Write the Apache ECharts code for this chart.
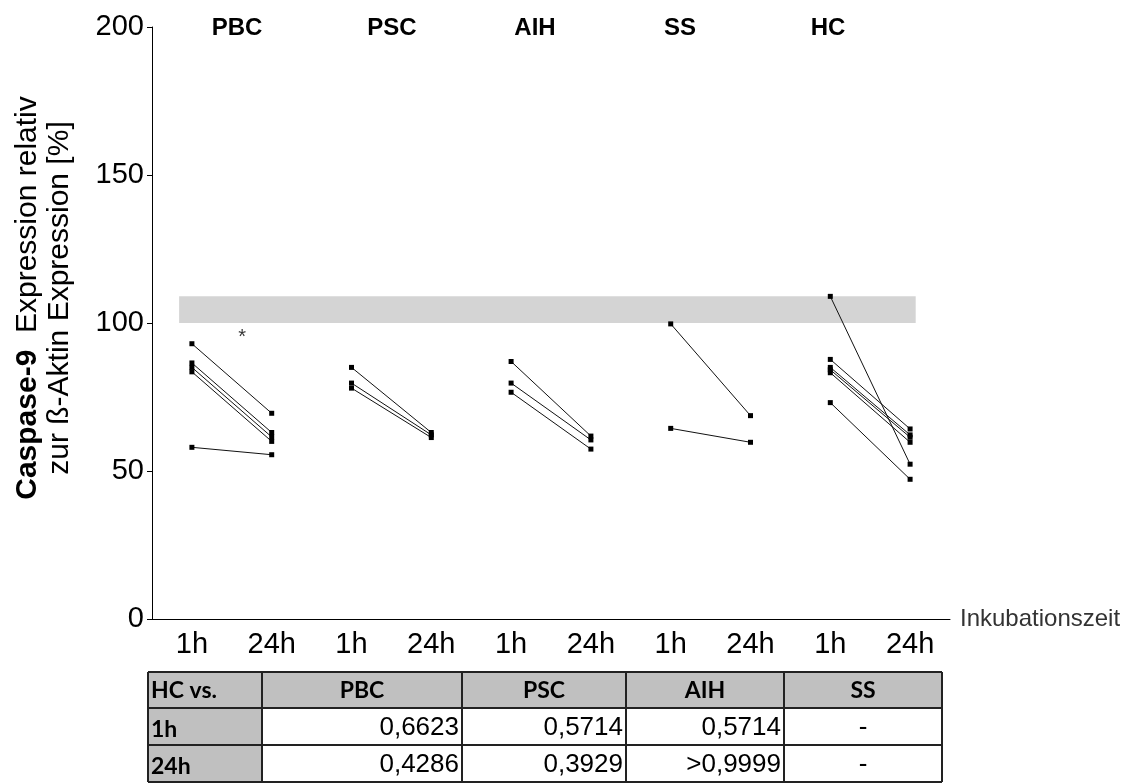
<!DOCTYPE html>
<html>
<head>
<meta charset="utf-8">
<script src="https://cdn.jsdelivr.net/npm/echarts@6/dist/echarts.min.js"></script>
<style>
  html, body { margin: 0; padding: 0; background: #fff; }
  #chart { width: 1136px; height: 783px; }
</style>
</head>
<body>
<div id="chart"></div>
<script>
// Time points on the x axis (two per patient group)
const timeLabels = ['1h', '24h', '1h', '24h', '1h', '24h', '1h', '24h', '1h', '24h'];
const groups = ['PBC', 'PSC', 'AIH', 'SS', 'HC'];
const yTicks = [0, 50, 100, 150, 200];

// Caspase-9 expression (% of ß-actin), paired per subject: 1h -> 24h
const pbc1h  = [93.0, 86.5, 85.0, 83.5, 58.0];
const pbc24h = [69.5, 63.0, 61.5, 60.0, 55.5];
const psc1h  = [85.0, 79.7, 78.0];
const psc24h = [63.0, 62.2, 61.3];
const aih1h  = [87.0, 79.7, 76.6];
const aih24h = [61.8, 60.5, 57.4];
const ss1h   = [99.7, 64.4];
const ss24h  = [68.7, 59.7];
const hc1h   = [109.0, 87.7, 85.0, 84.2, 83.2, 73.1];
const hc24h  = [52.3, 64.2, 62.2, 61.4, 59.7, 47.2];

// Reference band (healthy control range)
const bandLow = 100;
const bandHigh = 109;

// Significance marker
const starValue = 95;

// p-values table (HC vs. disease groups)
const tableHeader = ['HC vs.', 'PBC', 'PSC', 'AIH', 'SS'];
const tableRows = [
  ['1h',  '0,6623', '0,5714', '0,5714', '-'],
  ['24h', '0,4286', '0,3929', '>0,9999', '-']
];

const groupData = [
  [pbc1h, pbc24h], [psc1h, psc24h], [aih1h, aih24h], [ss1h, ss24h], [hc1h, hc24h]
];

const series = [];
groupData.forEach(([a, b], gi) => {
  a.forEach((v, i) => {
    series.push({
      type: 'line',
      xAxisIndex: 0,
      data: [[gi * 2, v], [gi * 2 + 1, b[i]]],
      symbol: 'rect',
      symbolSize: 5,
      itemStyle: { color: '#000' },
      lineStyle: { color: '#111', width: 1 },
      z: 5,
      silent: true,
      animation: false
    });
  });
});

// gray band drawn against a hidden continuous x axis
series.push({
  type: 'line',
  xAxisIndex: 1,
  data: [],
  markArea: {
    silent: true,
    itemStyle: { color: '#d4d4d4' },
    data: [[{ xAxis: 0.34, yAxis: bandLow }, { xAxis: 9.57, yAxis: bandHigh }]]
  },
  z: 1,
  animation: false
});

// asterisk between PBC 1h and 24h
series.push({
  type: 'scatter',
  xAxisIndex: 1,
  data: [[1.13, starValue]],
  symbolSize: 0,
  label: {
    show: true, position: 'inside', formatter: '*',
    fontSize: 20, color: '#000', fontFamily: 'Liberation Sans'
  },
  silent: true,
  animation: false
});

// ---- table below the axis ----
const colX = [148, 262, 462, 626, 784, 942];
const rowY = [672, 708, 745, 782];
const graphics = [];

graphics.push({ type: 'rect', shape: { x: colX[0], y: rowY[0], width: colX[5] - colX[0], height: rowY[1] - rowY[0] }, style: { fill: '#c0c0c0' } });
graphics.push({ type: 'rect', shape: { x: colX[0], y: rowY[1], width: colX[1] - colX[0], height: rowY[3] - rowY[1] }, style: { fill: '#c0c0c0' } });
colX.forEach(x => graphics.push({ type: 'line', shape: { x1: x, y1: rowY[0], x2: x, y2: rowY[3] }, style: { stroke: '#222', lineWidth: 2 } }));
rowY.forEach(y => graphics.push({ type: 'line', shape: { x1: colX[0], y1: y, x2: colX[5], y2: y }, style: { stroke: '#222', lineWidth: 2 } }));

const boldFont = 'bold 23px Lato, "Open Sans", sans-serif';
const valFont = '26px "Liberation Sans", Arial, sans-serif';
tableHeader.forEach((t, c) => {
  const cy = (rowY[0] + rowY[1]) / 2 + 1;
  graphics.push({
    type: 'text',
    style: c === 0
      ? { text: t, x: colX[0] + 3, y: cy, textAlign: 'left', textVerticalAlign: 'middle', font: boldFont, fill: '#000' }
      : { text: t, x: (colX[c] + colX[c + 1]) / 2, y: cy, textAlign: 'center', textVerticalAlign: 'middle', font: boldFont, fill: '#000' }
  });
});
tableRows.forEach((row, r) => {
  const cy = (rowY[r + 1] + rowY[r + 2]) / 2 + 1;
  row.forEach((t, c) => {
    let st;
    if (c === 0) st = { text: t, x: colX[0] + 3, y: cy + 2, textAlign: 'left', textVerticalAlign: 'middle', font: boldFont, fill: '#000' };
    else if (t === '-') st = { text: t, x: (colX[c] + colX[c + 1]) / 2, y: cy, textAlign: 'center', textVerticalAlign: 'middle', font: valFont, fill: '#000' };
    else st = { text: t, x: colX[c + 1] - 3, y: cy, textAlign: 'right', textVerticalAlign: 'middle', font: valFont, fill: '#000' };
    graphics.push({ type: 'text', style: st });
  });
});

// group titles across the top
const titleX = [237, 392, 535, 680, 828];
groups.forEach((g, i) => {
  graphics.push({
    type: 'text',
    style: { text: g, x: titleX[i], y: 28, textAlign: 'center', textVerticalAlign: 'middle',
      font: 'bold 24px "Liberation Sans", Arial, sans-serif', fill: '#000' }
  });
});

// rotated y-axis title (two lines)
graphics.push({
  type: 'text',
  x: 44, y: 298,
  rotation: Math.PI / 2,
  style: {
    text: '{b|Caspase-9}{n|  Expression relativ}\n{n|zur ß-Aktin Expression [%]}',
    textAlign: 'center', textVerticalAlign: 'middle',
    rich: {
      b: { fontWeight: 'bold', fontSize: 30, fontFamily: 'Liberation Sans', fill: '#000', lineHeight: 32 },
      n: { fontSize: 30, fontFamily: 'Liberation Sans', fill: '#000', lineHeight: 32 }
    }
  }
});

const chart = echarts.init(document.getElementById('chart'), null, { renderer: 'canvas' });
chart.setOption({
  backgroundColor: '#fff',
  animation: false,
  grid: { left: 152, right: 186, top: 27, height: 592, containLabel: false },
  xAxis: [{
    type: 'category',
    data: timeLabels,
    boundaryGap: true,
    name: 'Inkubationszeit',
    nameLocation: 'end',
    nameGap: 10,
    nameTextStyle: { fontSize: 24, color: '#333', fontFamily: 'Liberation Sans', padding: [0, 0, 12, 0] },
    axisLine: { lineStyle: { color: '#000', width: 1 } },
    axisTick: { alignWithLabel: true, length: 5, lineStyle: { color: '#000' } },
    axisLabel: { fontSize: 29, color: '#000', fontFamily: 'Liberation Sans', margin: 11, interval: 0 },
    splitLine: { show: false }
  }, {
    type: 'value', min: 0, max: 10, show: false
  }],
  yAxis: {
    type: 'value',
    min: yTicks[0], max: yTicks[yTicks.length - 1], interval: 50,
    axisLine: { show: true, lineStyle: { color: '#000', width: 1 } },
    axisTick: { show: true, length: 5, lineStyle: { color: '#000' } },
    axisLabel: { fontSize: 29, color: '#000', fontFamily: 'Liberation Sans', margin: 8 },
    splitLine: { show: false }
  },
  series: series,
  graphic: graphics
});
</script>
</body>
</html>
